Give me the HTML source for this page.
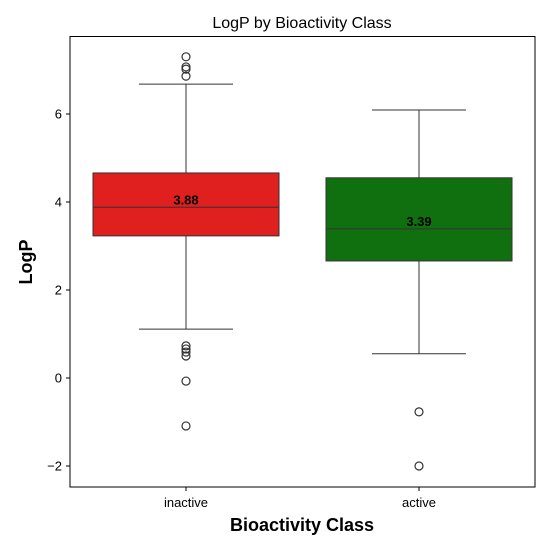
<!DOCTYPE html>
<html><head><meta charset="utf-8"><style>
body{margin:0;background:#fff}
svg{display:block;font-family:"Liberation Sans","DejaVu Sans",sans-serif}
</style></head><body>
<svg id="chart" width="550" height="550" xmlns="http://www.w3.org/2000/svg">
<rect width="550" height="550" fill="#fff"/>
<text x="302" y="28" text-anchor="middle" font-size="16" fill="#000">LogP by Bioactivity Class</text>
<g id="plot"></g>
<rect x="70" y="36.5" width="465" height="450.5" fill="none" stroke="#000" stroke-width="1"/>
<text x="302" y="531" text-anchor="middle" font-size="18" font-weight="bold">Bioactivity Class</text>
<text transform="translate(32,262) rotate(-90)" text-anchor="middle" font-size="18" font-weight="bold">LogP</text>
</svg>
<script>
const categories=["inactive","active"];
const q1=[3.23,2.66];
const medians=[3.88,3.39];
const q3=[4.66,4.55];
const whiskLo=[1.11,0.55];
const whiskHi=[6.68,6.09];
const outliers=[[7.30,7.07,7.02,6.86,0.73,0.66,0.59,0.50,-0.07,-1.09],[-0.77,-2.0]];
const colors=["#e01f1f","#107010"];
const yTicks=[-2,0,2,4,6];

const NS="http://www.w3.org/2000/svg";
const g=document.getElementById("plot");
const y=v=>378-44*v;
const x=i=>186+233*i;
const bw=186;
function mk(t,a){const e=document.createElementNS(NS,t);for(const k in a)e.setAttribute(k,a[k]);g.appendChild(e);return e;}
yTicks.forEach(t=>{
  const l=mk("line",{x1:66,x2:70,y1:y(t),y2:y(t),stroke:"#000"});
  
  
  const tx=mk("text",{x:62,y:y(t)+4.5,"text-anchor":"end","font-size":"13"});
  tx.textContent=t<0?"\u2212"+Math.abs(t):t;
  
  
});
categories.forEach((c,i)=>{
  const cx=x(i);
  const tk=mk("line",{x1:cx,x2:cx,y1:487,y2:491,stroke:"#000"});
  
  
  const lb=mk("text",{x:cx,y:507,"text-anchor":"middle","font-size":"13"});
  lb.textContent=c;
  
  
  const w1=mk("line",{x1:cx,x2:cx,y1:y(whiskHi[i]),y2:y(q3[i]),stroke:"#333"});
  
  
  const w2=mk("line",{x1:cx,x2:cx,y1:y(q1[i]),y2:y(whiskLo[i]),stroke:"#333"});
  
  
  [whiskHi[i],whiskLo[i]].forEach(v=>{
    const cap=mk("line",{x1:cx-47,x2:cx+47,y1:y(v),y2:y(v),stroke:"#333"});
    
    
  });
  const b=mk("rect",{x:cx-bw/2,y:y(q3[i]),width:bw,height:y(q1[i])-y(q3[i]),fill:colors[i],stroke:"#333"});
  
  
  const m=mk("line",{x1:cx-bw/2,x2:cx+bw/2,y1:y(medians[i]),y2:y(medians[i]),stroke:"#333"});
  
  
  const mt=mk("text",{x:cx,y:y(medians[i])-3,"text-anchor":"middle","font-size":"13","font-weight":"bold"});
  mt.textContent=medians[i].toFixed(2);
  
  
  outliers[i].forEach(v=>{
    const o=mk("circle",{cx:cx,cy:y(v),r:4,fill:"none",stroke:"#333","stroke-width":1.2});
    
    
  });
});
</script>
</body></html>
